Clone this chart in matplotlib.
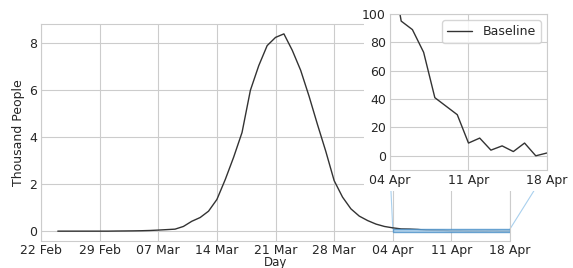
#!/usr/bin/env python3
"""
Daily count curve with a zoomed inset on the tail.
"""

import matplotlib
matplotlib.use('Agg')
import matplotlib.pyplot as plt
import matplotlib.dates as mdates
from matplotlib.patches import Rectangle, ConnectionPatch
import pandas as pd
import seaborn as sns

# Data (people per day), 24 Feb 2020 .. 18 Apr 2020
start_date = '2020-02-24'
end_date = '2020-04-18'
people = [
    0, 0, 0, 0, 0, 0, 0,
    5, 8, 12, 18, 28,
    45, 65, 85, 200, 420, 580, 850, 1350, 2200, 3150, 4200, 6000, 7050,
    7900, 8250, 8400, 7700, 6850, 5750, 4550, 3400, 2150, 1450, 950, 640,
    450, 300, 200, 140,
    95, 89, 73, 41, 35, 29, 9, 12.5, 4, 7, 3, 9, 0, 2,
]
series_label = 'Baseline'
zoom_start = '2020-04-04'
zoom_end = '2020-04-18'

days = pd.date_range(start_date, end_date, freq='D')
thousands = [p / 1000 for p in people]

sns.set_style('whitegrid')
plt.rcParams['font.family'] = ['DejaVu Sans']
plt.rcParams['font.size'] = 9
plt.rcParams['xtick.labelsize'] = 9
plt.rcParams['ytick.labelsize'] = 9
plt.rcParams['xtick.major.size'] = 0
plt.rcParams['ytick.major.size'] = 0
plt.rcParams['xtick.major.pad'] = 2
plt.rcParams['ytick.major.pad'] = 3

fig = plt.figure(figsize=(5.73, 2.68), dpi=100)
ax = fig.add_axes([0.0716, 0.1007, 0.8185, 0.8097])
ax.set_zorder(0)

line_color = '#333333'
ax.plot(days, thousands, color=line_color, lw=1.0)
ax.set_xlim(pd.Timestamp('2020-02-22'), pd.Timestamp(end_date))
ax.set_yticks([0, 2, 4, 6, 8])
ax.set_xticks(pd.date_range('2020-02-22', end_date, freq='7D'))
ax.xaxis.set_major_formatter(mdates.DateFormatter('%d %b'))
ax.set_ylabel('Thousand People', fontsize=9, labelpad=3)
ax.set_xlabel('Day', fontsize=8.5, labelpad=-0.5)

# zoom box on the main axes
z0, z1 = pd.Timestamp(zoom_start), pd.Timestamp(zoom_end)
box_color = '#4a90c8'
ax.add_patch(Rectangle((mdates.date2num(z0), -0.015),
                       mdates.date2num(z1) - mdates.date2num(z0), 0.11,
                       facecolor='#a9d0ee', edgecolor=box_color, lw=1.0,
                       alpha=0.8, zorder=3))

# inset
axin = fig.add_axes([0.6806, 0.3657, 0.274, 0.582])
axin.set_zorder(2)
axin.plot(days, people, color=line_color, lw=1.0, label=series_label)
axin.set_xlim(z0, z1)
axin.set_ylim(-10, 100)
axin.set_yticks([0, 20, 40, 60, 80, 100])
axin.set_xticks(pd.date_range(zoom_start, zoom_end, freq='7D'))
axin.xaxis.set_major_formatter(mdates.DateFormatter('%d %b'))
axin.tick_params(axis='x', pad=3)
axin.legend(loc='upper right', fontsize=9, frameon=True)

# white cover behind the inset, so main grid does not show through
fig.patches.append(Rectangle((0.636, 0.287), 0.364, 0.713,
                             transform=fig.transFigure, facecolor='white',
                             edgecolor='none', zorder=1))

# connector lines
for xa, xb in [(0, z0), (1, z1)]:
    con = ConnectionPatch(xyA=(xa, 0), coordsA=axin.transAxes,
                          xyB=(mdates.date2num(xb), 0.095), coordsB=ax.transData,
                          color='#a9d0ee', lw=0.8)
    ax.add_artist(con)

plt.savefig('out.png', dpi=100)
plt.close()
